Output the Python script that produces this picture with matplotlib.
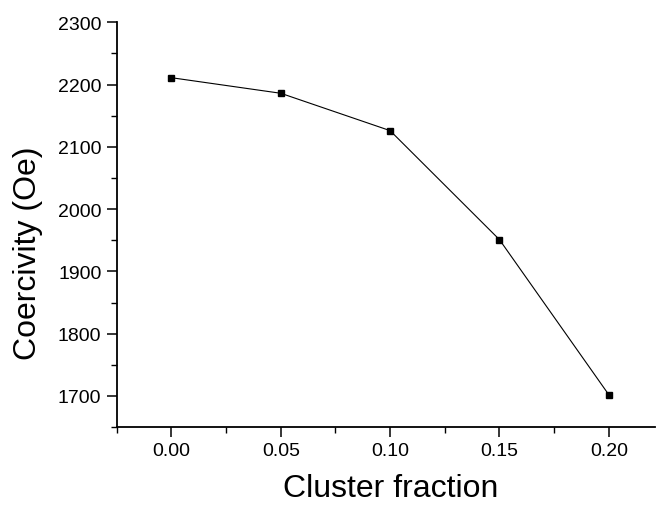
import matplotlib
matplotlib.use("Agg")
import matplotlib.pyplot as plt
from matplotlib.ticker import MultipleLocator

# Data
cluster_fraction = [0.00, 0.05, 0.10, 0.15, 0.20]
coercivity = [2211, 2186, 2126, 1951, 1702]

plt.rcParams['font.family'] = ['Liberation Sans', 'DejaVu Sans']

fig = plt.figure(figsize=(6.56, 5.06), dpi=100)
ax = fig.add_axes([0.178, 0.154, 0.82, 0.80])

ax.plot(cluster_fraction, coercivity, color='black', lw=0.8,
        marker='s', markersize=4, markerfacecolor='black')

ax.set_xlim(-0.025, 0.221)
ax.set_ylim(1650, 2300)
ax.xaxis.set_major_locator(MultipleLocator(0.05))
ax.xaxis.set_minor_locator(MultipleLocator(0.025))
ax.yaxis.set_major_locator(MultipleLocator(100))
ax.yaxis.set_minor_locator(MultipleLocator(50))
ax.xaxis.set_major_formatter(plt.FormatStrFormatter('%.2f'))

for s in ['top', 'right']:
    ax.spines[s].set_visible(False)
for s in ['left', 'bottom']:
    ax.spines[s].set_linewidth(1.3)

ax.tick_params(which='major', direction='out', length=7, width=1.1,
               labelsize=14, pad=4)
ax.tick_params(which='minor', direction='out', length=4, width=1.0)

ax.set_xlabel("Cluster fraction", fontsize=23)
ax.set_ylabel("Coercivity (Oe)", fontsize=23)
ax.yaxis.set_label_coords(-0.137, 0.433)
ax.xaxis.set_label_coords(0.51, -0.113)

fig.savefig("out.png", dpi=100)
